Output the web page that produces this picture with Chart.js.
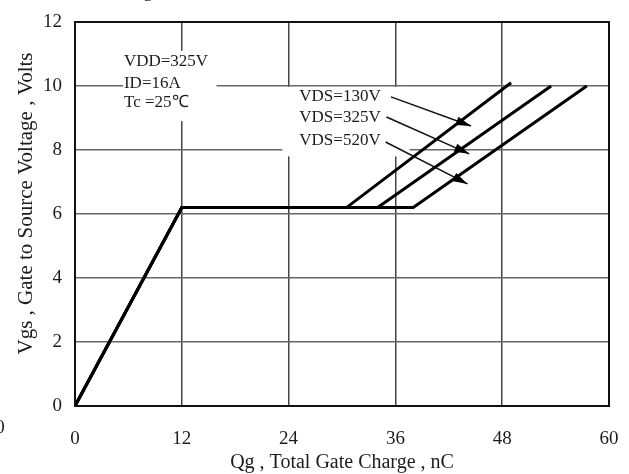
<!DOCTYPE html>
<html><head><meta charset="utf-8">
<script src="https://cdn.jsdelivr.net/npm/chart.js@4"></script>
<style>html,body{margin:0;padding:0;background:#fff;overflow:hidden}#w{width:629px;height:474px;position:relative}canvas{display:block}</style>
</head><body><div id="w"><canvas id="c" width="629" height="474"></canvas></div>
<script>
// ---- data ----
const xTicks = [0, 12, 24, 36, 48, 60];
const yTicks = [0, 2, 4, 6, 8, 10, 12];
const qg130 = [0, 12, 30.5, 49.0];
const vgs130 = [0, 6.2, 6.2, 10.1];
const qg325 = [0, 12, 34.0, 53.5];
const vgs325 = [0, 6.2, 6.2, 10.0];
const qg520 = [0, 12, 38.0, 57.5];
const vgs520 = [0, 6.2, 6.2, 10.0];
const curveLabels = ['VDS=130V', 'VDS=325V', 'VDS=520V'];
const conditionLines = ['VDD=325V', 'ID=16A', 'Tc =25\u2103'];
// arrows from label to curve: [qgStart, vgsStart, qgEnd, vgsEnd]
const arrow130 = [35.5, 9.66, 44.5, 8.75];
const arrow325 = [35.0, 9.03, 44.3, 7.88];
const arrow520 = [34.9, 8.25, 44.1, 6.94];
const xTitle = 'Qg , Total Gate Charge , nC';
const yTitle = '    Vgs , Gate to Source Voltage , Volts';

// ---- layout / style (not data) ----
const FONT = '"Liberation Serif", "Times New Roman", serif';
const TXT = '#1c1c1c';
const labelPos = { x: 25.2, y: [9.66, 9.0, 8.31] };
const condPos = { x: 5.5, y: [10.75, 10.09, 9.47] };
const maskBoxes = [[5.4, 11.1, 15.9, 8.9], [23.3, 9.97, 37.6, 7.8]];

const pts = (xs, ys) => xs.map((v, i) => ({ x: v, y: ys[i] }));
const arrowPts = a => [{ x: a[0], y: a[1] }, { x: a[2], y: a[3] }];

const curveStyle = { borderColor: '#000', borderWidth: 3, pointRadius: 0, tension: 0, fill: false, borderCapStyle: 'butt', borderJoinStyle: 'miter' };
const arrowStyle = { borderColor: '#111', borderWidth: 1.5, pointRadius: 0, tension: 0, fill: false, isArrow: true };

const overlay = {
  id: 'overlay',
  beforeDatasetsDraw(chart) {
    const { ctx, scales: { x, y } } = chart;
    ctx.save();
    ctx.fillStyle = '#fff';
    for (const b of maskBoxes) {
      const x0 = x.getPixelForValue(b[0]), x1 = x.getPixelForValue(b[2]);
      const y0 = y.getPixelForValue(b[1]), y1 = y.getPixelForValue(b[3]);
      ctx.fillRect(x0, y0, x1 - x0, y1 - y0);
    }
    ctx.restore();
  },
  afterDatasetsDraw(chart) {
    const { ctx, chartArea: ca, scales: { x, y } } = chart;
    ctx.save();
    ctx.strokeStyle = '#111';
    ctx.lineWidth = 2;
    ctx.strokeRect(ca.left, ca.top, ca.right - ca.left, ca.bottom - ca.top);
    chart.data.datasets.forEach((ds, i) => {
      if (!ds.isArrow) return;
      const meta = chart.getDatasetMeta(i);
      const p0 = meta.data[0], p1 = meta.data[1];
      const ang = Math.atan2(p1.y - p0.y, p1.x - p0.x);
      const L = 15, W = 4.5;
      ctx.fillStyle = '#000';
      ctx.beginPath();
      ctx.moveTo(p1.x, p1.y);
      ctx.lineTo(p1.x - L * Math.cos(ang) + W * Math.sin(ang), p1.y - L * Math.sin(ang) - W * Math.cos(ang));
      ctx.lineTo(p1.x - L * Math.cos(ang) - W * Math.sin(ang), p1.y - L * Math.sin(ang) + W * Math.cos(ang));
      ctx.closePath();
      ctx.fill();
    });
    ctx.fillStyle = TXT;
    ctx.font = '17px ' + FONT;
    ctx.textAlign = 'left';
    ctx.textBaseline = 'middle';
    curveLabels.forEach((t, i) => ctx.fillText(t, x.getPixelForValue(labelPos.x), y.getPixelForValue(labelPos.y[i])));
    conditionLines.forEach((t, i) => ctx.fillText(t, x.getPixelForValue(condPos.x), y.getPixelForValue(condPos.y[i])));
    ctx.font = '19px ' + FONT;
    ctx.textAlign = 'center';
    ctx.fillText('0', 0, 428);
    ctx.textBaseline = 'alphabetic';
    ctx.fillText('g', 148, -3);
    ctx.restore();
  }
};

new Chart(document.getElementById('c'), {
  type: 'line',
  data: {
    datasets: [
      { ...curveStyle, data: pts(qg130, vgs130) },
      { ...curveStyle, data: pts(qg325, vgs325) },
      { ...curveStyle, data: pts(qg520, vgs520) },
      { ...arrowStyle, data: arrowPts(arrow130) },
      { ...arrowStyle, data: arrowPts(arrow325) },
      { ...arrowStyle, data: arrowPts(arrow520) }
    ]
  },
  options: {
    responsive: false,
    animation: false,
    devicePixelRatio: 1,
    layout: { padding: { left: 0, right: 20, top: 22, bottom: 0 } },
    plugins: { legend: { display: false }, tooltip: { enabled: false }, title: { display: false } },
    scales: {
      x: {
        type: 'linear', min: 0, max: 60,
        afterBuildTicks: s => { s.ticks = xTicks.map(v => ({ value: v })); },
        afterFit: s => { s.height = 68; s.paddingLeft = 0; s.paddingRight = 0; },
        grid: { color: '#444', lineWidth: 1.5, drawTicks: false },
        border: { display: false },
        ticks: { color: TXT, padding: 22, font: { family: FONT, size: 19 }, maxRotation: 0 },
        title: { display: true, text: xTitle, color: TXT, font: { family: FONT, size: 20, lineHeight: 1.0 }, padding: { top: 0, bottom: 1 } }
      },
      y: {
        type: 'linear', min: 0, max: 12,
        afterBuildTicks: s => { s.ticks = yTicks.map(v => ({ value: v })); },
        afterFit: s => { s.width = 75; s.paddingTop = 0; s.paddingBottom = 0; },
        grid: { color: '#666', lineWidth: 1.5, drawTicks: false },
        border: { display: false },
        ticks: { color: TXT, padding: 13, font: { family: FONT, size: 19 } },
        title: { display: true, text: yTitle, color: TXT, font: { family: FONT, size: 21 }, padding: { top: 14, bottom: 0 } }
      }
    }
  },
  plugins: [overlay]
});
</script>
</body></html>
